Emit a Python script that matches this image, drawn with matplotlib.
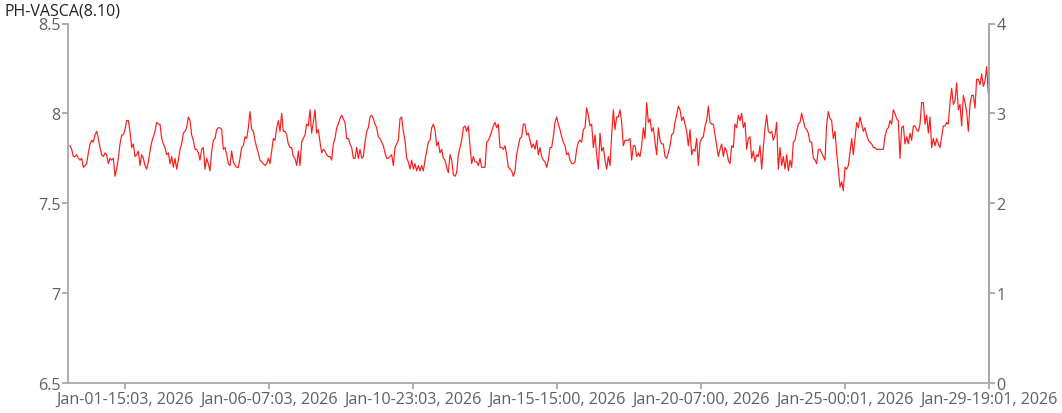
import numpy as np
import matplotlib
matplotlib.use("Agg")
import matplotlib.pyplot as plt

# ---- data ----
title = "PH-VASCA(8.10)"

seg1 = [7.82, 7.80, 7.76, 7.76, 7.77, 7.75, 7.74, 7.75, 7.70, 7.71, 7.72, 7.78, 7.83, 7.85, 7.84, 7.88, 7.90, 7.86, 7.81, 7.77,
        7.76, 7.78, 7.77, 7.72, 7.75, 7.74, 7.75, 7.65, 7.69, 7.75, 7.83, 7.88, 7.88, 7.91, 7.96, 7.96, 7.90, 7.81, 7.83, 7.76,
        7.77, 7.79, 7.71, 7.77, 7.75, 7.71, 7.69, 7.73, 7.79, 7.84, 7.87, 7.90, 7.95, 7.94, 7.94, 7.86, 7.83, 7.81, 7.77, 7.78,
        7.72, 7.76, 7.70, 7.75, 7.69, 7.74, 7.80, 7.83, 7.89, 7.90, 7.92, 7.98, 7.96, 7.88, 7.85, 7.80, 7.80, 7.78, 7.74, 7.80,
        7.81, 7.69, 7.75, 7.72, 7.68, 7.79, 7.85, 7.86, 7.91, 7.92, 7.92, 7.91, 7.80, 7.81, 7.77, 7.72, 7.71, 7.79, 7.73, 7.71,
        7.70, 7.70, 7.75]
seg2 = [7.81, 7.82, 7.87, 7.86, 7.92, 8.01, 7.91, 7.90, 7.85, 7.81, 7.78, 7.74, 7.73, 7.72, 7.71, 7.72, 7.75, 7.72, 7.79, 7.86,
        7.85, 7.92, 7.96, 7.90, 8.00, 7.90, 7.90, 7.88, 7.83, 7.81, 7.81, 7.76, 7.75, 7.71, 7.79, 7.71, 7.84, 7.86, 7.88, 7.94,
        7.93, 8.02, 7.89, 7.95, 8.02, 7.89, 7.91, 7.84, 7.78, 7.80, 7.79, 7.77, 7.76, 7.76, 7.74, 7.83, 7.86, 7.92, 7.94, 7.97,
        7.99, 7.97, 7.95, 7.86, 7.86, 7.83, 7.81, 7.75, 7.75, 7.81, 7.75, 7.80, 7.75, 7.76, 7.84, 7.90, 7.92, 7.98, 7.99, 7.97,
        7.94, 7.92, 7.87, 7.86, 7.84, 7.82, 7.78, 7.75, 7.75, 7.76, 7.77, 7.71, 7.81, 7.83, 7.85, 7.97, 7.98, 7.90, 7.85, 7.75,
        7.73, 7.69]
seg3 = [7.74, 7.69, 7.72, 7.68, 7.71, 7.68, 7.71, 7.68, 7.74, 7.79, 7.84, 7.85, 7.92, 7.94, 7.91, 7.82, 7.84, 7.78, 7.80, 7.75,
        7.74, 7.70, 7.67, 7.77, 7.74, 7.66, 7.65, 7.67, 7.77, 7.81, 7.85, 7.92, 7.93, 7.90, 7.93, 7.82, 7.72, 7.76, 7.73, 7.73,
        7.71, 7.75, 7.70, 7.70, 7.70, 7.84, 7.85, 7.87, 7.90, 7.93, 7.95, 7.92, 7.94, 7.81, 7.81, 7.80, 7.82, 7.77, 7.70, 7.69,
        7.68, 7.65, 7.68, 7.77, 7.82, 7.86, 7.87, 7.94, 7.94, 7.88, 7.89, 7.85, 7.81, 7.83, 7.80, 7.85, 7.77, 7.81, 7.76, 7.74,
        7.73, 7.70, 7.74, 7.81, 7.81, 7.87, 7.95, 7.98, 7.94, 7.91, 7.87, 7.84, 7.82, 7.77, 7.78, 7.74, 7.72, 7.72, 7.73, 7.80,
        7.84, 7.85]
seg4 = [7.84, 7.91, 7.92, 8.03, 7.99, 7.93, 7.94, 7.81, 7.88, 7.77, 7.69, 7.89, 7.79, 7.81, 7.74, 7.69, 7.76, 7.71, 7.88, 8.02,
        7.91, 7.98, 7.98, 8.02, 7.95, 7.82, 7.85, 7.85, 7.85, 7.86, 7.74, 7.82, 7.82, 7.76, 7.78, 7.76, 7.82, 7.92, 7.86, 8.06,
        7.95, 7.97, 7.90, 7.92, 7.84, 7.77, 7.92, 7.85, 7.83, 7.83, 7.76, 7.75, 7.78, 7.82, 7.88, 7.89, 7.95, 7.99, 8.04, 8.02,
        7.96, 7.98, 7.94, 7.90, 7.82, 7.91, 7.77, 7.80, 7.79, 7.86, 7.71, 7.84, 7.86, 7.87, 7.93, 7.96, 8.04, 7.95, 7.94, 7.94,
        7.88, 7.82, 7.76, 7.80, 7.83, 7.76, 7.81, 7.79, 7.74, 7.72, 7.82, 7.81, 7.94, 7.92, 7.99, 7.96, 8.00, 7.92, 7.95, 7.80,
        7.86, 7.87]
seg5 = [7.75, 7.79, 7.73, 7.77, 7.76, 7.82, 7.69, 7.81, 7.92, 7.99, 7.90, 7.89, 7.90, 7.85, 7.88, 7.95, 7.69, 7.81, 7.71, 7.76,
        7.69, 7.77, 7.68, 7.74, 7.70, 7.84, 7.85, 7.90, 7.94, 7.95, 8.00, 7.96, 7.92, 7.91, 7.89, 7.84, 7.84, 7.75, 7.74, 7.72,
        7.80, 7.80, 7.78, 7.76, 7.74, 7.94, 8.01, 7.97, 7.96, 7.86, 7.90, 7.78, 7.69, 7.59, 7.62, 7.57, 7.70, 7.69, 7.71, 7.78,
        7.86, 7.77, 7.86, 7.95, 7.92, 7.98, 7.94, 7.90, 7.92, 7.88, 7.85, 7.84, 7.83, 7.81, 7.81, 7.80, 7.80, 7.80]
seg6 = [7.80, 7.80, 7.87, 7.91, 7.92, 7.96, 7.94, 8.02, 8.00, 7.97, 7.96, 7.75, 7.92, 7.93, 7.83, 7.87, 7.83, 7.89, 7.85, 7.93,
        7.93, 7.91, 7.90, 7.94, 8.06, 8.06, 7.94, 7.99, 7.89, 7.98, 7.81, 7.86, 7.82, 7.86, 7.83, 7.81, 7.87, 7.93, 7.93, 7.95,
        7.94, 8.06, 8.14, 8.05, 8.07, 8.17, 8.02, 8.05, 7.93, 8.10, 8.06, 8.01, 7.90, 8.05, 8.10, 8.10, 8.03, 8.19, 8.19, 8.16,
        8.22, 8.15, 8.18, 8.26, 8.11]

ph_values = seg1 + seg2 + seg3 + seg4 + seg5 + seg6

tick_labels = ["Jan-01-15:03, 2026", "Jan-06-07:03, 2026", "Jan-10-23:03, 2026",
               "Jan-15-15:00, 2026", "Jan-20-07:00, 2026", "Jan-25-00:01, 2026",
               "Jan-29-19:01, 2026"]
left_ticks = [6.5, 7, 7.5, 8, 8.5]
left_tick_labels = ["6.5", "7", "7.5", "8", "8.5"]
right_ticks = [0, 1, 2, 3, 4]

# ---- styling ----
FONT = "Open Sans"
GREY = "#a8a8a8"
TXT = "#606060"
FS = 11.6

fig = plt.figure(figsize=(10.62, 4.14), dpi=100)
ax = fig.add_axes([68 / 1062, 1 - 384 / 414, (989 - 68) / 1062, (384 - 24.5) / 414])

n = len(ph_values)
x = np.arange(n)
ax.plot(x, ph_values, color="#ff1a1a", lw=0.85)

x0, x1 = -1.2, n - 1 + 0.4
ax.set_xlim(x0, x1)
ax.set_ylim(6.5, 8.5)

first_frac = 0.0624
fracs = first_frac + np.arange(len(tick_labels)) * (1 - first_frac) / (len(tick_labels) - 1)
ax.set_xticks(x0 + fracs * (x1 - x0))
ax.set_xticklabels(tick_labels)
ax.set_yticks(left_ticks)
ax.set_yticklabels(left_tick_labels)

ax.spines["top"].set_visible(False)
for side in ["left", "bottom", "right"]:
    ax.spines[side].set_color(GREY)
    ax.spines[side].set_linewidth(1.3)

ax.tick_params(axis="both", direction="out", length=4.5, width=1.3, color=GREY,
               labelcolor=TXT, labelsize=FS, pad=1.0)
for lab in ax.get_xticklabels() + ax.get_yticklabels():
    lab.set_fontfamily(FONT)

ax2 = ax.twinx()
ax2.set_ylim(0, 4)
ax2.set_yticks(right_ticks)
ax2.set_yticklabels([str(t) for t in right_ticks])
for side in ["top", "left", "bottom"]:
    ax2.spines[side].set_visible(False)
ax2.spines["right"].set_color(GREY)
ax2.spines["right"].set_linewidth(1.3)
ax2.tick_params(axis="y", direction="out", length=4.5, width=1.3, color=GREY,
                labelcolor=TXT, labelsize=FS, pad=1.0)
for lab in ax2.get_yticklabels():
    lab.set_fontfamily(FONT)

fig.text(5 / 1062, 1 - 11 / 414, title, fontsize=11.5, color="#222222",
         fontfamily=FONT, ha="left", va="center")

fig.savefig("out.png", dpi=100)
